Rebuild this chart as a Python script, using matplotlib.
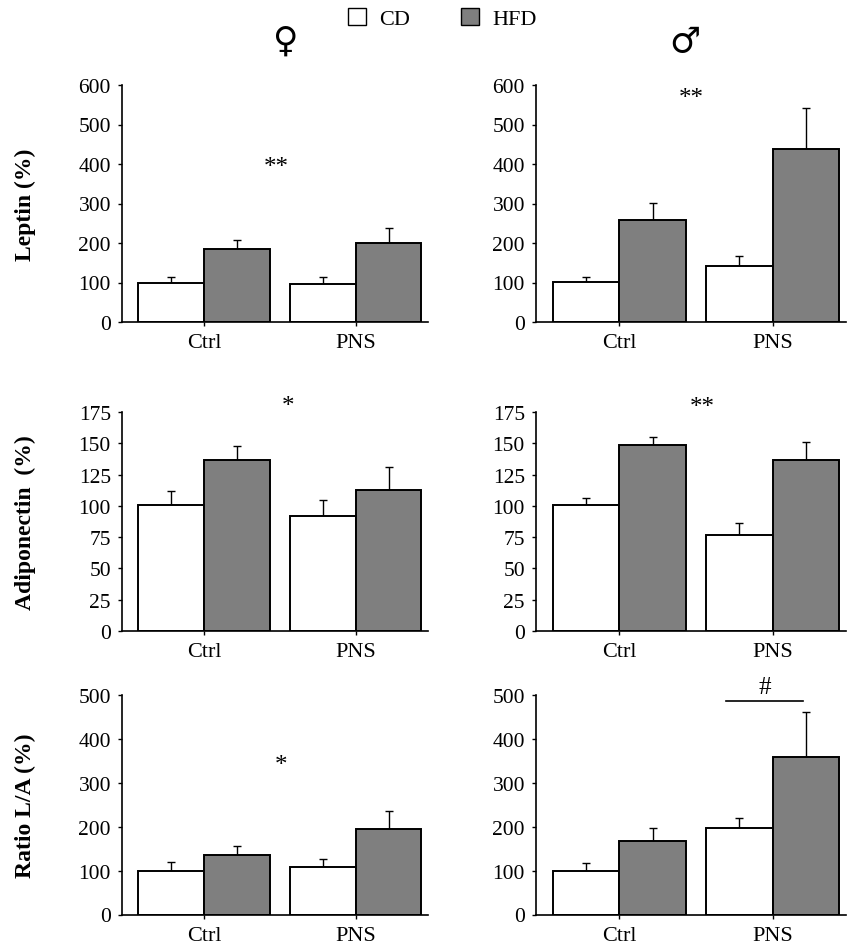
import matplotlib
matplotlib.use("Agg")
import matplotlib.pyplot as plt
from matplotlib.patches import Patch
import numpy as np

plt.rcParams['font.family'] = ['Liberation Serif', 'DejaVu Serif']

# ---------------- data ----------------
groups = ["Ctrl", "PNS"]
diets = ["CD", "HFD"]

leptin_f_cd = [100, 96]
leptin_f_cd_err = [15, 18]
leptin_f_hfd = [186, 200]
leptin_f_hfd_err = [21, 37]

leptin_m_cd = [101, 141]
leptin_m_cd_err = [13, 25]
leptin_m_hfd = [259, 438]
leptin_m_hfd_err = [42, 103]

adipo_f_cd = [101, 92]
adipo_f_cd_err = [11, 13]
adipo_f_hfd = [137, 113]
adipo_f_hfd_err = [11, 18]

adipo_m_cd = [101, 77]
adipo_m_cd_err = [5, 9]
adipo_m_hfd = [149, 137]
adipo_m_hfd_err = [6, 14]

ratio_f_cd = [98, 108]
ratio_f_cd_err = [21, 19]
ratio_f_hfd = [136, 195]
ratio_f_hfd_err = [19, 41]

ratio_m_cd = [100, 197]
ratio_m_cd_err = [17, 23]
ratio_m_hfd = [168, 359]
ratio_m_hfd_err = [29, 103]

row_labels = ["Leptin (%)", "Adiponectin  (%)", "Ratio L/A (%)"]
y_max = [600, 175, 500]
y_step = [100, 25, 100]

# annotations: (text, x in group units, y)
annots = {
    (0, 0): [("**", 1.1, 392)],
    (0, 1): [("**", 1.08, 566)],
    (1, 0): [("*", 1.27, 180)],
    (1, 1): [("**", 1.25, 179)],
    (2, 0): [("*", 1.17, 340)],
    (2, 1): [("#", 2.18, 518)],
}
sig_line_x = [1.6, 2.76]
sig_line_y = 486

panels = {
    (0, 0): (leptin_f_cd, leptin_f_cd_err, leptin_f_hfd, leptin_f_hfd_err),
    (0, 1): (leptin_m_cd, leptin_m_cd_err, leptin_m_hfd, leptin_m_hfd_err),
    (1, 0): (adipo_f_cd, adipo_f_cd_err, adipo_f_hfd, adipo_f_hfd_err),
    (1, 1): (adipo_m_cd, adipo_m_cd_err, adipo_m_hfd, adipo_m_hfd_err),
    (2, 0): (ratio_f_cd, ratio_f_cd_err, ratio_f_hfd, ratio_f_hfd_err),
    (2, 1): (ratio_m_cd, ratio_m_cd_err, ratio_m_hfd, ratio_m_hfd_err),
}

# ---------------- layout ----------------
W, H = 851, 945
fig = plt.figure(figsize=(W / 100, H / 100), dpi=100)

col_lr = [(122, 428), (536, 846)]
row_tb = [(86, 323), (413, 632), (696, 915.5)]

HFD_COLOR = "#7f7f7f"
centers = np.array([0.0, 2.3])
bw = 1.0

for (r, c), (cd, cde, hfd, hfde) in panels.items():
    l, rr = col_lr[c]
    t, b = row_tb[r]
    ax = fig.add_axes([l / W, 1 - b / H, (rr - l) / W, (b - t) / H])
    ax.bar(centers - bw / 2, cd, width=bw, color="white", edgecolor="black",
           linewidth=1.4, zorder=2)
    ax.bar(centers + bw / 2, hfd, width=bw, color=HFD_COLOR, edgecolor="black",
           linewidth=1.4, zorder=2)
    ax.errorbar(centers - bw / 2, cd, yerr=[np.zeros(2), cde], fmt="none",
                ecolor="black", elinewidth=1.0, capsize=3, capthick=1.0, zorder=1)
    ax.errorbar(centers + bw / 2, hfd, yerr=[np.zeros(2), hfde], fmt="none",
                ecolor="black", elinewidth=1.0, capsize=3, capthick=1.0, zorder=1)
    ax.set_xlim(-1.25, 3.4)
    ax.set_ylim(0, y_max[r])
    ax.set_yticks(np.arange(0, y_max[r] + 1, y_step[r]))
    ax.set_xticks(centers)
    ax.set_xticklabels(groups)
    for s in ["top", "right"]:
        ax.spines[s].set_visible(False)
    for s in ["left", "bottom"]:
        ax.spines[s].set_linewidth(1.2)
    ax.tick_params(axis="both", length=3, width=1.0, direction="out")
    ax.tick_params(axis="y", pad=5, labelsize=15.5)
    ax.tick_params(axis="x", pad=5, labelsize=16)
    for txt, x, y in annots.get((r, c), []):
        ax.text(x, y, txt, ha="center", va="center", fontsize=18, clip_on=False)
    if (r, c) == (2, 1):
        ax.plot(sig_line_x, [sig_line_y, sig_line_y], color="black", lw=1.2,
                clip_on=False)
    if c == 0:
        fig.text(25 / W, 1 - ((t + b) / 2) / H, row_labels[r], rotation=90,
                 ha="center", va="center", fontsize=17, fontweight="bold")

# sex titles
fig.text(285 / W, 1 - 42 / H, "\u2640", fontsize=25, fontweight="bold",
         family=["DejaVu Sans"], ha="center", va="center")
fig.text(685 / W, 1 - 42 / H, "\u2642", fontsize=25, fontweight="bold",
         family=["DejaVu Sans"], ha="center", va="center")

# legend
handles = [Patch(facecolor="white", edgecolor="black", linewidth=1.0),
           Patch(facecolor=HFD_COLOR, edgecolor="black", linewidth=1.0)]
fig.legend(handles, diets, loc="upper center", bbox_to_anchor=(0.52, 1.012),
           ncol=2, frameon=False, fontsize=16, handlelength=0.8,
           handleheight=0.8, handletextpad=0.6, columnspacing=2.3)

fig.savefig("out.png", dpi=100)
